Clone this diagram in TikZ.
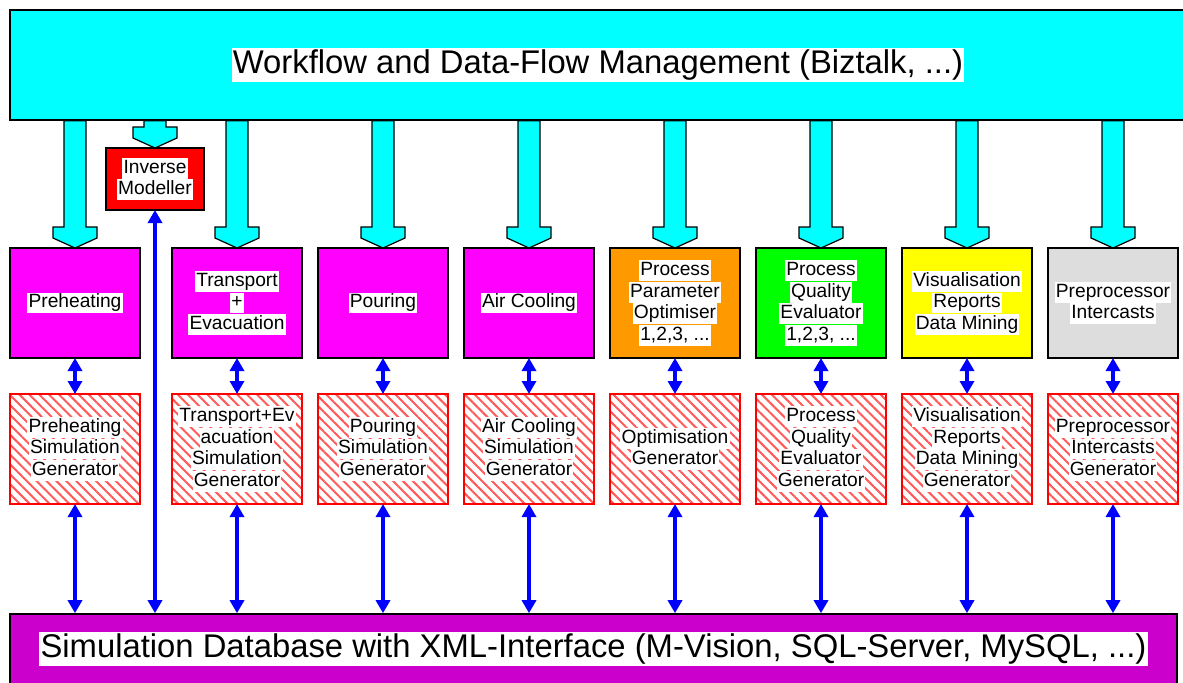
\documentclass[tikz,border=0pt]{standalone}
\usepackage{fontspec}
\setmainfont{Liberation Sans}
\usetikzlibrary{arrows.meta, patterns.meta, positioning}

\definecolor{flowcyan}{HTML}{00FFFF}
\definecolor{stagemagenta}{HTML}{FF00FF}
\definecolor{optimorange}{HTML}{FF9900}
\definecolor{qualgreen}{HTML}{00FF00}
\definecolor{visuyellow}{HTML}{FFFF00}
\definecolor{prepgray}{HTML}{DDDDDD}
\definecolor{dbpurple}{HTML}{CC00CC}
\definecolor{linkblue}{HTML}{0000FF}

\setlength{\fboxsep}{0.6pt}
\newcommand{\onwhite}[1]{\colorbox{white}{\rule[-0.22em]{0pt}{0.95em}#1}}

\tikzset{
	bar/.style = {draw, line width = 0.8pt, inner sep = 0pt, font = \fontsize{16.4}{19}\selectfont},
	stage/.style = {draw, line width = 0.8pt, minimum width = 65pt, minimum height = 55pt, inner sep = 0pt, outer sep = 0pt, align = center, font = \fontsize{9.6}{10.8}\selectfont},
	generator/.style = {stage, draw = red, pattern = {Lines[angle = -45, distance = 3.5pt, line width = 1pt]}, pattern color = red!65},
	blockarrow/.style = {fill = flowcyan, draw, line width = 0.6pt, line join = miter},
	link/.style = {<->, linkblue, line width = 2pt}
}

\begin{document}
\begin{tikzpicture}[x = 0.5pt, y = 0.5pt, > = {Triangle[width = 7pt, length = 6.5pt]}]

	\useasboundingbox (0, 0) rectangle (1183, 682);

	% The management bar and the database bar

	\node [bar, fill = flowcyan, minimum width = 588pt, minimum height = 55pt] (flow) at (598, 617)
		{\onwhite{Workflow and Data-Flow Management (Biztalk, ...)}};
	\node [bar, fill = dbpurple, minimum width = 583.5pt, minimum height = 35pt] (db) at (593.5, 33)
		{\onwhite{Simulation Database with XML-Interface (M-Vision, SQL-Server, MySQL, ...)}};

	% Process stages

	\node [stage, fill = stagemagenta] (heat) at (75, 379) {\onwhite{Preheating}};
	\node [stage, fill = stagemagenta, right = 16pt of heat] (trans) {\onwhite{Transport}\\ \onwhite{+}\\ \onwhite{Evacuation}};
	\node [stage, fill = stagemagenta, right = 8pt of trans] (pour) {\onwhite{Pouring}};
	\node [stage, fill = stagemagenta, right = 8pt of pour] (cool) {\onwhite{Air Cooling}};
	\node [stage, fill = optimorange, right = 8pt of cool] (optim) {\onwhite{Process}\\ \onwhite{Parameter}\\ \onwhite{Optimiser}\\ \onwhite{1,2,3, ...}};
	\node [stage, fill = qualgreen, right = 8pt of optim] (qual) {\onwhite{Process}\\ \onwhite{Quality}\\ \onwhite{Evaluator}\\ \onwhite{1,2,3, ...}};
	\node [stage, fill = visuyellow, right = 8pt of qual] (visu) {\onwhite{Visualisation}\\ \onwhite{Reports}\\ \onwhite{Data Mining}};
	\node [stage, fill = prepgray, right = 8pt of visu] (prep) {\onwhite{Preprocessor}\\ \onwhite{Intercasts}};

	\node [stage, fill = red, minimum width = 49pt, minimum height = 31pt] (inv) at (155, 503) {\onwhite{Inverse}\\ \onwhite{Modeller}};

	% Simulation generators

	\node [generator, below = 18pt of heat] (gen-heat) {\onwhite{Preheating}\\ \onwhite{Simulation}\\ \onwhite{Generator}};
	\node [generator, below = 18pt of trans] (gen-trans) {\onwhite{Transport+Ev}\\ \onwhite{acuation}\\ \onwhite{Simulation}\\ \onwhite{Generator}};
	\node [generator, below = 18pt of pour] (gen-pour) {\onwhite{Pouring}\\ \onwhite{Simulation}\\ \onwhite{Generator}};
	\node [generator, below = 18pt of cool] (gen-cool) {\onwhite{Air Cooling}\\ \onwhite{Simulation}\\ \onwhite{Generator}};
	\node [generator, below = 18pt of optim] (gen-optim) {\onwhite{Optimisation}\\ \onwhite{Generator}};
	\node [generator, below = 18pt of qual] (gen-qual) {\onwhite{Process}\\ \onwhite{Quality}\\ \onwhite{Evaluator}\\ \onwhite{Generator}};
	\node [generator, below = 18pt of visu] (gen-visu) {\onwhite{Visualisation}\\ \onwhite{Reports}\\ \onwhite{Data Mining}\\ \onwhite{Generator}};
	\node [generator, below = 18pt of prep] (gen-prep) {\onwhite{Preprocessor}\\ \onwhite{Intercasts}\\ \onwhite{Generator}};

	% Block arrows from the workflow management

	\foreach \s in {heat, inv, trans, pour, cool, optim, qual, visu, prep}
	{
		\draw [blockarrow] (\s.north) -- ++(-22, 10) -- ++(0, 11) -- ++(11, 0)
			-- ([xshift = -5.5pt] flow.south -| \s.north) -- ([xshift = 5.5pt] flow.south -| \s.north)
			-- ([shift = {(11, 21)}] \s.north) -- ++(11, 0) -- ++(0, -11) -- cycle;
	}

	% Data links

	\foreach \s in {heat, trans, pour, cool, optim, qual, visu, prep}
	{
		\draw [link] (\s) -- (gen-\s);
		\draw [link] (gen-\s) -- (gen-\s.south |- db.north);
	}

	\draw [link] (inv) -- (inv.south |- db.north);

\end{tikzpicture}
\end{document}
